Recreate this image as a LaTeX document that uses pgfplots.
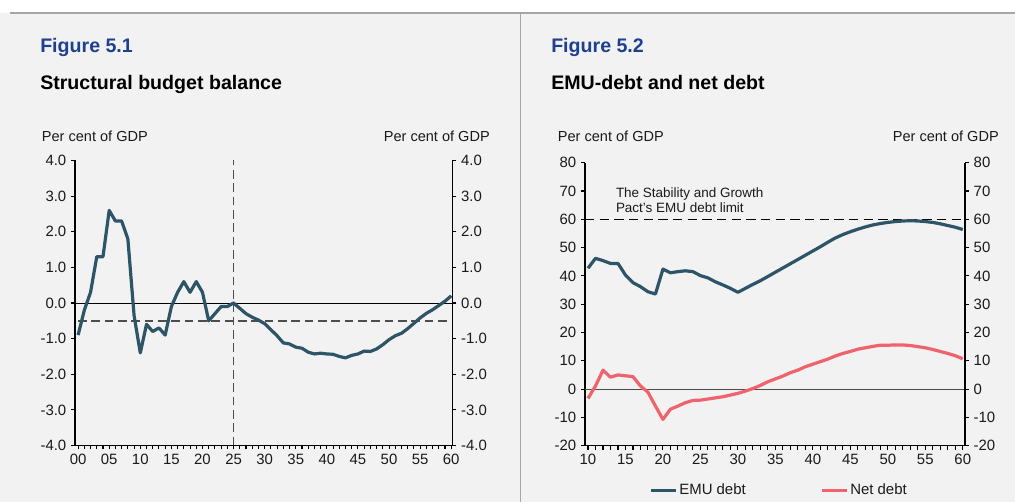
\documentclass[border=0pt]{standalone}
\usepackage{pgfplots}
\pgfplotsset{compat=1.18}
\usepackage{fontspec}
\setmainfont{Liberation Sans}
\definecolor{bg}{HTML}{F2F2F2}
\definecolor{emu}{HTML}{2E5468}
\definecolor{netd}{HTML}{F0626C}
\definecolor{tblue}{HTML}{1F3F8F}
\definecolor{dashg}{HTML}{4D4D4D}
\definecolor{sepg}{HTML}{A6A6A6}
\definecolor{txt}{HTML}{1A1A1A}

\pgfplotstableread{
x y
0 -0.9
1 -0.2
2 0.3
3 1.3
4 1.3
5 2.6
6 2.3
7 2.3
8 1.8
9 -0.35
10 -1.4
11 -0.6
12 -0.8
13 -0.7
14 -0.9
15 -0.1
16 0.3
17 0.6
18 0.3
19 0.6
20 0.3
21 -0.5
22 -0.3
23 -0.1
24 -0.1
25 0.0
26 -0.15
27 -0.3
28 -0.4
29 -0.48
30 -0.58
31 -0.75
32 -0.92
33 -1.12
34 -1.15
35 -1.24
36 -1.27
37 -1.38
38 -1.43
39 -1.41
40 -1.43
41 -1.44
42 -1.5
43 -1.54
44 -1.47
45 -1.43
46 -1.35
47 -1.36
48 -1.29
49 -1.17
50 -1.03
51 -0.92
52 -0.85
53 -0.72
54 -0.57
55 -0.42
56 -0.29
57 -0.19
58 -0.07
59 0.05
60 0.2
}\balance

\pgfplotstableread{
x y
10 42.7
11 46.2
12 45.4
13 44.4
14 44.4
15 40.3
16 37.6
17 36.2
18 34.4
19 33.6
20 42.4
21 41.1
22 41.5
23 41.8
24 41.5
25 40.1
26 39.3
27 37.9
28 36.8
29 35.6
30 34.2
31 35.6
32 37.0
33 38.3
34 39.8
35 41.3
36 42.8
37 44.3
38 45.8
39 47.3
40 48.8
41 50.3
42 51.9
43 53.4
44 54.6
45 55.6
46 56.5
47 57.3
48 58.0
49 58.5
50 58.9
51 59.2
52 59.4
53 59.5
54 59.4
55 59.2
56 58.9
57 58.4
58 57.8
59 57.2
60 56.4
}\emudebt

\pgfplotstableread{
x y
10 -3.3
11 1.1
12 6.7
13 4.2
14 5.0
15 4.7
16 4.4
17 1.1
18 -1.1
19 -6.0
20 -10.7
21 -7.1
22 -6.0
23 -4.8
24 -4.0
25 -3.9
26 -3.5
27 -3.1
28 -2.7
29 -2.1
30 -1.5
31 -0.7
32 0.2
33 1.3
34 2.6
35 3.6
36 4.6
37 5.8
38 6.7
39 7.9
40 8.8
41 9.7
42 10.6
43 11.7
44 12.6
45 13.3
46 14.1
47 14.6
48 15.1
49 15.5
50 15.5
51 15.6
52 15.6
53 15.4
54 15.0
55 14.6
56 14.0
57 13.3
58 12.6
59 11.8
60 10.7
}\netdebt

\pgfplotsset{
  base/.style={
    scale only axis,
    tick align=outside,
    major tick length=3pt,
    minor tick length=3pt,
    tick style={black, line width=0.8pt},
    axis line style={black, line width=0.9pt},
    tick label style={font=\fontsize{11.2}{12}\selectfont, text=txt},
    /pgf/number format/assume math mode=true,
    clip=false,
  },
}

\begin{document}
\begin{tikzpicture}[x=0.75pt,y=0.75pt]
\useasboundingbox (0,0) rectangle (1015,502);
\fill[white] (0,0) rectangle (1015,502);
\fill[bg] (0,0) rectangle (1015,489);
\draw[sepg, line width=0.9pt] (10,489) -- (1015,489);
\draw[sepg, line width=0.9pt] (520.5,0) -- (520.5,489);

% titles
\node[anchor=base west, inner sep=0, text=tblue, font=\bfseries\fontsize{14.7}{17}\selectfont] at (40,449) {Figure 5.1};
\node[anchor=base west, inner sep=0, text=black, font=\bfseries\fontsize{14.7}{17}\selectfont] at (40,412) {Structural budget balance};
\node[anchor=base west, inner sep=0, text=txt, font=\fontsize{10.9}{12}\selectfont] at (41.7,360) {Per cent of GDP};
\node[anchor=base east, inner sep=0, text=txt, font=\fontsize{10.9}{12}\selectfont] at (490,360) {Per cent of GDP};

\node[anchor=base west, inner sep=0, text=tblue, font=\bfseries\fontsize{14.7}{17}\selectfont] at (551,449) {Figure 5.2};
\node[anchor=base west, inner sep=0, text=black, font=\bfseries\fontsize{14.7}{17}\selectfont] at (551,412) {EMU-debt and net debt};
\node[anchor=base west, inner sep=0, text=txt, font=\fontsize{10.9}{12}\selectfont] at (557.7,360) {Per cent of GDP};
\node[anchor=base east, inner sep=0, text=txt, font=\fontsize{10.9}{12}\selectfont] at (999,360) {Per cent of GDP};

% ---------- Figure 5.1 ----------
\begin{axis}[base,
  at={(56.25pt,42.375pt)}, anchor=south west,
  width=283.1pt, height=213.75pt,
  xmin=-0.5, xmax=60.2, ymin=-4, ymax=4,
  axis x line*=bottom, axis y line*=left,
  xtick={0,5,...,60},
  xticklabels={00,05,10,15,20,25,30,35,40,45,50,55,60},
  minor x tick num=4,
  ytick={-4,-3,...,4},
  yticklabels={-4.0,-3.0,-2.0,-1.0,0.0,1.0,2.0,3.0,4.0},
]
\addplot[black, line width=0.6pt, forget plot] coordinates {(-0.5,0) (60.2,0)};
\addplot[dashg, line width=1.1pt, dash pattern=on 6.5pt off 3.5pt, forget plot] coordinates {(0,-0.5) (60,-0.5)};
\addplot[dashg, line width=1.1pt, dash pattern=on 6.5pt off 3.5pt, forget plot] coordinates {(25,-4) (25,4)};
\addplot[emu, line width=2.4pt, line join=round] table[x=x,y=y] {\balance};
\end{axis}
\begin{axis}[base,
  at={(56.25pt,42.375pt)}, anchor=south west,
  width=283.1pt, height=213.75pt,
  xmin=-0.5, xmax=60.2, ymin=-4, ymax=4,
  axis x line=none, axis y line*=right,
  ytick={-4,-3,...,4},
  yticklabels={-4.0,-3.0,-2.0,-1.0,0.0,1.0,2.0,3.0,4.0},
]
\addplot[draw=none] coordinates {(0,0)};
\end{axis}

% ---------- Figure 5.2 ----------
\begin{axis}[base,
  at={(438.75pt,42.225pt)}, anchor=south west,
  width=285pt, height=212.25pt,
  xmin=9.6, xmax=60.3, ymin=-20, ymax=80,
  axis x line*=bottom, axis y line*=left,
  xtick={10,15,...,60},
  minor x tick num=4,
  ytick={-20,-10,...,80},
  yticklabels={-20,-10,0,10,20,30,40,50,60,70,80},
  legend columns=2,
  legend style={draw=none, fill=none, at={(axis description cs:0.51,-0.158)}, anchor=center,
    font=\fontsize{11.2}{12}\selectfont, text=txt,
    /tikz/every odd column/.style={column sep=0pt},
    /tikz/every even column/.append style={column sep=55pt},
    nodes={inner sep=1pt}},
  legend image code/.code={\draw[#1] (0pt,0pt) -- (19pt,0pt);},
]
\addplot[black!70, line width=0.7pt, forget plot] coordinates {(9.6,0) (60.3,0)};
\addplot[black, line width=1pt, dash pattern=on 7pt off 4pt, forget plot] coordinates {(9.6,60) (60.3,60)};
\addplot[emu, line width=2.4pt, line join=round] table[x=x,y=y] {\emudebt};
\addlegendentry{EMU debt}
\addplot[netd, line width=2.4pt, line join=round] table[x=x,y=y] {\netdebt};
\addlegendentry{Net debt}
\node[anchor=west, align=left, inner sep=0, text=txt, font=\fontsize{10.1}{11}\selectfont] at (axis cs:13.7,66.8) {The Stability and Growth\\Pact's EMU debt limit};
\end{axis}
\begin{axis}[base,
  at={(438.75pt,42.225pt)}, anchor=south west,
  width=285pt, height=212.25pt,
  xmin=9.6, xmax=60.3, ymin=-20, ymax=80,
  axis x line=none, axis y line*=right,
  ytick={-20,-10,...,80},
  yticklabels={-20,-10,0,10,20,30,40,50,60,70,80},
]
\addplot[draw=none] coordinates {(20,0)};
\end{axis}
\end{tikzpicture}
\end{document}
